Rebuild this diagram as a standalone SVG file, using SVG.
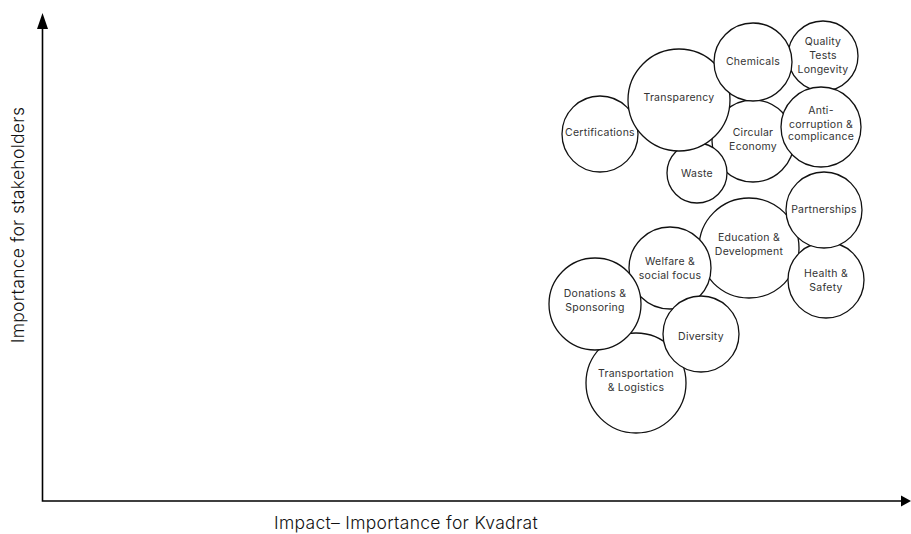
<svg xmlns="http://www.w3.org/2000/svg" width="911" height="534" viewBox="0 0 911 534">
<style>
.b circle{fill:#fff;stroke:#111;stroke-width:1.3}
.b text{font-family:Inter,"Noto Sans",sans-serif;font-size:10.5px;fill:#333;text-anchor:middle;letter-spacing:0.25px}
.ax{stroke:#000;stroke-width:1.6;fill:none}
.lbl{font-family:Inter,"Noto Sans",sans-serif;font-size:17.5px;font-weight:300;fill:#111;letter-spacing:0.3px}
</style>
<rect width="911" height="534" fill="#fff"/>
<g id="axes">
<path class="ax" d="M42.5 27 V501 H902"/>
<path d="M42.5 13 L37 29 H48 Z" fill="#000"/>
<path d="M911 501 L901 495.5 V506.5 Z" fill="#000"/>
</g>
<text class="lbl" transform="translate(24,225) rotate(-90)" text-anchor="middle">Importance for stakeholders</text>
<text class="lbl" x="406" y="529" text-anchor="middle">Impact– Importance for Kvadrat</text>
<g class="b">
<g id="quality"><circle cx="823" cy="56" r="35"/><text x="823" y="45">Quality</text><text x="823" y="59">Tests</text><text x="823" y="73">Longevity</text></g>
<g id="circular"><circle cx="753" cy="141" r="41"/><text x="753" y="136">Circular</text><text x="753" y="150">Economy</text></g>
<g id="waste"><circle cx="697" cy="173" r="30"/><text x="697" y="177">Waste</text></g>
<g id="certifications"><circle cx="600" cy="134" r="38"/><text x="600" y="136">Certifications</text></g>
<g id="transparency"><circle cx="679" cy="100" r="51"/><text x="679" y="101">Transparency</text></g>
<g id="chemicals"><circle cx="753" cy="62" r="39"/><text x="753" y="65">Chemicals</text></g>
<g id="anticorruption"><circle cx="821" cy="127" r="40"/><text x="821" y="114">Anti-</text><text x="821" y="128">corruption &amp;</text><text x="821" y="140">complicance</text></g>
<g id="transportation"><circle cx="636" cy="383" r="50"/><text x="636" y="377">Transportation</text><text x="636" y="391">&amp; Logistics</text></g>
<g id="education"><circle cx="749" cy="248" r="50"/><text x="749" y="241">Education &amp;</text><text x="749" y="255">Development</text></g>
<g id="welfare"><circle cx="670" cy="268" r="41"/><text x="670" y="265">Welfare &amp;</text><text x="670" y="279">social focus</text></g>
<g id="donations"><circle cx="595" cy="304" r="46"/><text x="595" y="297">Donations &amp;</text><text x="595" y="311">Sponsoring</text></g>
<g id="diversity"><circle cx="701" cy="334" r="38"/><text x="701" y="340">Diversity</text></g>
<g id="health"><circle cx="826" cy="280" r="38"/><text x="826" y="277">Health &amp;</text><text x="826" y="291">Safety</text></g>
<g id="partnerships"><circle cx="824" cy="210" r="38"/><text x="824" y="213">Partnerships</text></g>
</g>
</svg>
